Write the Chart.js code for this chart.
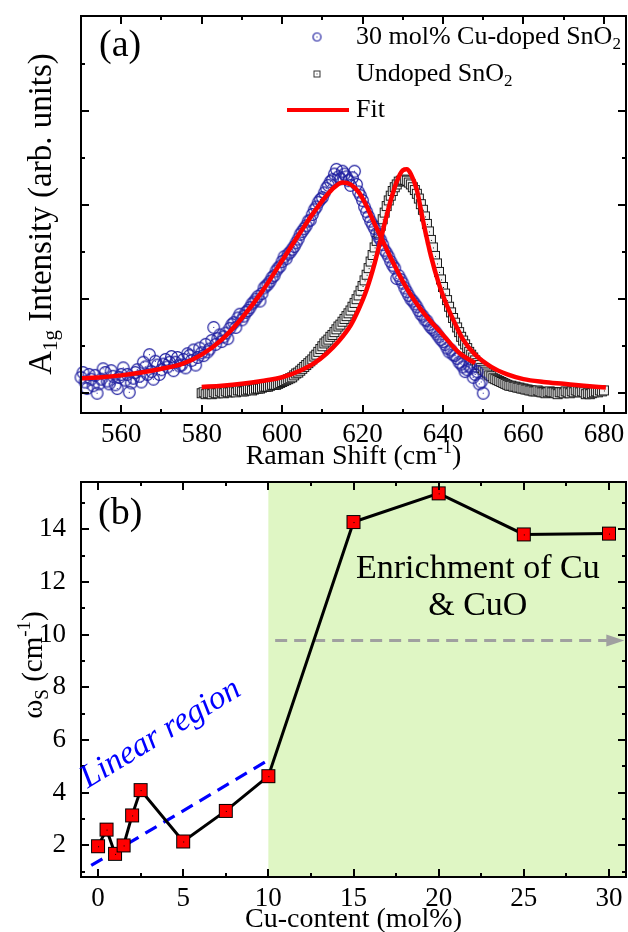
<!DOCTYPE html>
<html><head><meta charset="utf-8">
<script src="https://cdn.jsdelivr.net/npm/chart.js@4.4.1/dist/chart.umd.min.js"></script>
<style>
html,body{margin:0;padding:0;background:#fff;}
#wrap{position:relative;width:628px;height:932px;background:#fff;}
#c1{position:absolute;left:0;top:0;}
#c2{position:absolute;left:0;top:470px;}
</style></head><body>
<div id="wrap"><canvas id="c1" width="628" height="470"></canvas><canvas id="c2" width="628" height="462"></canvas></div>
<script>
// ---------- Panel (a) data ----------
const ramanShiftDoped = [550,550.5,551,551.5,552,552.5,553,553.5,554,554.5,555,555.5,556,556.5,557,557.5,558,558.5,559,559.5,560,560.5,561,561.5,562,562.5,563,563.5,564,564.5,565,565.5,566,566.5,567,567.5,568,568.5,569,569.5,570,570.5,571,571.5,572,572.5,573,573.5,574,574.5,575,575.5,576,576.5,577,577.5,578,578.5,579,579.5,580,580.5,581,581.5,582,582.5,583,583.5,584,584.5,585,585.5,586,586.5,587,587.5,588,588.5,589,589.5,590,590.5,591,591.5,592,592.5,593,593.5,594,594.5,595,595.5,596,596.5,597,597.5,598,598.5,599,599.5,600,600.5,601,601.5,602,602.5,603,603.5,604,604.5,605,605.5,606,606.5,607,607.5,608,608.5,609,609.5,610,610.5,611,611.5,612,612.5,613,613.5,614,614.5,615,615.5,616,616.5,617,617.5,618,618.5,619,619.5,620,620.5,621,621.5,622,622.5,623,623.5,624,624.5,625,625.5,626,626.5,627,627.5,628,628.5,629,629.5,630,630.5,631,631.5,632,632.5,633,633.5,634,634.5,635,635.5,636,636.5,637,637.5,638,638.5,639,639.5,640,640.5,641,641.5,642,642.5,643,643.5,644,644.5,645,645.5,646,646.5,647,647.5,648,648.5,649,649.5,650];
const intensityDoped = [0.17,0.22,0.12,0.05,0.20,0.15,0.08,0.19,0.00,0.10,0.15,0.26,0.22,0.13,0.10,0.24,0.18,0.09,0.05,0.17,0.20,0.27,0.14,0.20,0.01,0.11,0.16,0.22,0.25,0.18,0.12,0.33,0.28,0.20,0.41,0.23,0.15,0.34,0.30,0.20,0.25,0.31,0.36,0.28,0.33,0.39,0.24,0.33,0.38,0.29,0.30,0.36,0.27,0.42,0.40,0.35,0.46,0.30,0.38,0.48,0.43,0.40,0.52,0.44,0.47,0.56,0.70,0.52,0.58,0.62,0.55,0.60,0.64,0.58,0.69,0.73,0.75,0.70,0.80,0.84,0.78,0.82,0.86,0.88,0.91,0.95,0.97,1.00,1.03,0.98,1.06,1.12,1.14,1.16,1.19,1.23,1.25,1.30,1.33,1.35,1.40,1.45,1.43,1.48,1.50,1.53,1.56,1.60,1.64,1.69,1.72,1.75,1.78,1.83,1.84,1.90,1.95,1.98,2.03,2.06,2.08,2.13,2.18,2.21,2.25,2.27,2.33,2.38,2.30,2.28,2.36,2.33,2.30,2.26,2.21,2.29,2.36,2.22,2.14,2.10,2.05,1.98,1.93,1.88,1.83,1.79,1.75,1.70,1.66,1.63,1.58,1.52,1.49,1.45,1.40,1.36,1.33,1.22,1.25,1.21,1.17,1.12,1.08,1.04,1.00,0.98,0.95,0.92,0.88,0.84,0.82,0.78,0.77,0.73,0.70,0.68,0.66,0.63,0.60,0.57,0.55,0.52,0.48,0.44,0.46,0.41,0.40,0.37,0.33,0.31,0.28,0.23,0.25,0.29,0.27,0.17,0.20,0.23,0.10,0.12,0.00];
const ramanShiftUndoped = [580,580.5,581,581.5,582,582.5,583,583.5,584,584.5,585,585.5,586,586.5,587,587.5,588,588.5,589,589.5,590,590.5,591,591.5,592,592.5,593,593.5,594,594.5,595,595.5,596,596.5,597,597.5,598,598.5,599,599.5,600,600.5,601,601.5,602,602.5,603,603.5,604,604.5,605,605.5,606,606.5,607,607.5,608,608.5,609,609.5,610,610.5,611,611.5,612,612.5,613,613.5,614,614.5,615,615.5,616,616.5,617,617.5,618,618.5,619,619.5,620,620.5,621,621.5,622,622.5,623,623.5,624,624.5,625,625.5,626,626.5,627,627.5,628,628.5,629,629.5,630,630.5,631,631.5,632,632.5,633,633.5,634,634.5,635,635.5,636,636.5,637,637.5,638,638.5,639,639.5,640,640.5,641,641.5,642,642.5,643,643.5,644,644.5,645,645.5,646,646.5,647,647.5,648,648.5,649,649.5,650,650.5,651,651.5,652,652.5,653,653.5,654,654.5,655,655.5,656,656.5,657,657.5,658,658.5,659,659.5,660,660.5,661,661.5,662,662.5,663,663.5,664,664.5,665,665.5,666,666.5,667,667.5,668,668.5,669,669.5,670,670.5,671,671.5,672,672.5,673,673.5,674,674.5,675,675.5,676,676.5,677,677.5,678,678.5,679,679.5,680,680.5,681];
const intensityUndoped = [0.00,0.01,-0.01,0.00,0.00,-0.01,0.01,0.00,0.00,0.02,0.01,0.00,0.02,0.01,0.01,0.02,0.02,0.01,0.03,0.03,0.02,0.02,0.03,0.04,0.04,0.03,0.04,0.05,0.05,0.05,0.06,0.07,0.07,0.07,0.08,0.09,0.09,0.09,0.10,0.11,0.12,0.13,0.14,0.15,0.16,0.17,0.19,0.21,0.22,0.24,0.26,0.28,0.30,0.32,0.34,0.36,0.39,0.41,0.44,0.47,0.50,0.53,0.55,0.57,0.60,0.62,0.65,0.68,0.71,0.73,0.76,0.79,0.82,0.85,0.88,0.92,0.96,1.00,1.04,1.09,1.14,1.20,1.26,1.33,1.40,1.47,1.55,1.62,1.70,1.78,1.85,1.92,1.99,2.05,2.10,2.15,2.19,2.22,2.25,2.26,2.27,2.27,2.26,2.24,2.22,2.19,2.16,2.12,2.07,2.01,1.95,1.88,1.80,1.72,1.63,1.55,1.46,1.38,1.29,1.21,1.13,1.06,0.99,0.92,0.86,0.80,0.75,0.70,0.65,0.60,0.56,0.52,0.48,0.44,0.41,0.38,0.35,0.32,0.30,0.27,0.25,0.23,0.21,0.19,0.18,0.16,0.15,0.14,0.13,0.12,0.11,0.10,0.09,0.08,0.08,0.07,0.07,0.06,0.06,0.05,0.05,0.04,0.04,0.03,0.03,0.02,0.02,0.03,0.02,0.01,0.01,0.00,0.01,0.02,0.01,0.01,0.00,-0.01,0.01,0.01,0.00,0.02,0.01,0.00,0.02,0.01,0.03,0.02,0.01,0.02,0.01,-0.01,0.00,-0.01,0.00,0.01,0.02,0.01,0.03,0.02,0.03];
const fitShiftDoped = [550,555,560,565,570,575,580,585,590,595,600,605,608,611,613,615,617,619,621,623,625,627,630,633,636,640,644,648];
const fitDoped = [0.16,0.17,0.19,0.22,0.26,0.31,0.41,0.57,0.80,1.08,1.41,1.74,1.93,2.10,2.19,2.24,2.22,2.14,1.99,1.80,1.62,1.44,1.19,0.98,0.81,0.62,0.43,0.32];
const fitShiftUndoped = [580,585,590,595,600,605,608,611,614,617,619,621,623,625,627,628.5,630,631,632,633.5,635,637,639,641,643,645,648,652,656,660,665,670,675,680.5];
const fitUndoped = [0.067,0.08,0.10,0.13,0.17,0.25,0.32,0.42,0.55,0.72,0.89,1.10,1.38,1.72,2.05,2.25,2.37,2.38,2.33,2.16,1.84,1.46,1.16,0.93,0.74,0.57,0.41,0.28,0.20,0.15,0.12,0.10,0.08,0.06];
const ramanMajorTicks = [560,580,600,620,640,660,680];
const ramanMinorTicks = [570,590,610,630,650,670];
const intensityMajorTicks = [0,1,2,3];
const intensityMinorTicks = [0.5,1.5,2.5,3.5];
const legendLabels = [["30 mol% Cu-doped SnO","2"],["Undoped SnO","2"],["Fit",""]];

// ---------- Panel (b) data ----------
const cuContent = [0,0.5,1,1.5,2,2.5,5,7.5,10,15,20,25,30];
const omegaS = [1.97,2.60,1.68,2.00,3.14,4.10,2.15,3.31,4.63,14.28,15.37,13.81,13.84];
const cuMajorTicks = [0,5,10,15,20,25,30];
const cuMinorTicks = [2.5,7.5,12.5,17.5,22.5,27.5];
const omegaMajorTicks = [2,4,6,8,10,12,14];
const omegaMinorTicks = [1,3,5,7,9,11,13,15];
const linearRegionX = [-0.4, 9.9];
const linearRegionY = [1.24, 5.2];
const arrowX = [10.4, 30.9];
const arrowY = [9.78, 9.78];
const enrichmentStart = 10;
const linearLabelPos = {x: 3.94, y: 5.95};
const enrichLabelPos = [{x: 22.3, y: 12.5}, {x: 22.3, y: 11.07}];

const FONT = '"Liberation Serif","Times New Roman",serif';

function makeCircleMarker(r, color, lw) {
  const s = Math.ceil(2*r + 3);
  const c = document.createElement('canvas'); c.width = s; c.height = s;
  const g = c.getContext('2d');
  g.strokeStyle = color; g.lineWidth = lw;
  g.beginPath(); g.arc(s/2, s/2, r, 0, Math.PI*2); g.stroke();
  g.fillStyle = color; g.fillRect(Math.floor(s/2), Math.floor(s/2), 1, 1);
  return c;
}
function makeSquareMarker(side, fill, stroke, dot) {
  const s = side + 2;
  const c = document.createElement('canvas'); c.width = s; c.height = s;
  const g = c.getContext('2d');
  g.fillStyle = fill; g.fillRect(1, 1, side, side);
  g.strokeStyle = stroke; g.lineWidth = 1; g.strokeRect(1.5, 1.5, side - 1, side - 1);
  g.fillStyle = dot; g.fillRect(Math.floor(s/2), Math.floor(s/2), 1, 1);
  return c;
}
const circleMarker = makeCircleMarker(5.8, '#1f1fa0', 1.2);
const squareMarker = makeSquareMarker(10, '#f2f2f2', '#1a1a1a', '#1a1a1a');
const legendCircle = makeCircleMarker(4, '#1f1fa0', 1.2);
const legendSquare = makeSquareMarker(7, '#ffffff', '#333333', '#333333');
const redSquare = makeSquareMarker(14, '#ff0000', '#000000', '#000000');

function drawRich(ctx, parts, cx, cy, size, opts) {
  opts = opts || {};
  ctx.save();
  ctx.translate(cx, cy);
  if (opts.rot) ctx.rotate(opts.rot);
  ctx.textBaseline = 'middle';
  ctx.fillStyle = opts.color || '#000';
  const st = opts.style ? opts.style + ' ' : '';
  const fontFor = k => st + (k === 'n' ? size : Math.round(size*0.65)) + 'px ' + FONT;
  let total = 0;
  for (const [t, k] of parts) { ctx.font = fontFor(k); total += ctx.measureText(t).width; }
  let x = opts.align === 'left' ? 0 : -total/2;
  for (const [t, k] of parts) {
    ctx.font = fontFor(k);
    const dy = k === 'sub' ? size*0.3 : (k === 'sup' ? -size*0.3 : 0);
    ctx.fillText(t, x, dy);
    x += ctx.measureText(t).width;
  }
  ctx.restore();
}

function drawFrameTicks(chart, xMaj, xMin, yMaj, yMin) {
  const {ctx, chartArea: a, scales: {x, y}} = chart;
  ctx.save();
  ctx.strokeStyle = '#000'; ctx.lineWidth = 2;
  const hx = (vals, len) => vals.forEach(v => {
    const p = Math.round(x.getPixelForValue(v));
    ctx.beginPath(); ctx.moveTo(p, a.bottom); ctx.lineTo(p, a.bottom - len);
    ctx.moveTo(p, a.top); ctx.lineTo(p, a.top + len); ctx.stroke();
  });
  const hy = (vals, len) => vals.forEach(v => {
    const p = Math.round(y.getPixelForValue(v));
    ctx.beginPath(); ctx.moveTo(a.left, p); ctx.lineTo(a.left + len, p);
    ctx.moveTo(a.right, p); ctx.lineTo(a.right - len, p); ctx.stroke();
  });
  hx(xMaj, 8); hx(xMin, 4); hy(yMaj, 8); hy(yMin, 4);
  ctx.strokeRect(a.left, a.top, a.right - a.left, a.bottom - a.top);
  ctx.restore();
}

const tickFont = {family: FONT, size: 27};
const zeroPad = s => { s.paddingLeft = 0; s.paddingRight = 0; s.paddingTop = 0; s.paddingBottom = 0; };

// ---------- Panel (a) ----------
const panelA = {
  id: 'panelA',
  afterDraw(chart) {
    const ctx = chart.ctx;
    drawFrameTicks(chart, ramanMajorTicks, ramanMinorTicks, intensityMajorTicks, intensityMinorTicks);
    ctx.drawImage(legendCircle, 317 - legendCircle.width/2, 37 - legendCircle.height/2);
    ctx.drawImage(legendSquare, 317 - legendSquare.width/2, 74 - legendSquare.height/2);
    ctx.save(); ctx.strokeStyle = '#ff0000'; ctx.lineWidth = 4;
    ctx.beginPath(); ctx.moveTo(287, 110); ctx.lineTo(349, 110); ctx.stroke(); ctx.restore();
    const ys = [37, 74, 110];
    legendLabels.forEach((l, i) => {
      const parts = [[l[0], 'n']]; if (l[1]) parts.push([l[1], 'sub']);
      drawRich(ctx, parts, 356, ys[i], 26, {align: 'left'});
    });
    drawRich(ctx, [['(a)', 'n']], 99, 46, 38, {align: 'left'});
    drawRich(ctx, [['Raman Shift (cm', 'n'], ['-1', 'sup'], [')', 'n']], 353.5, 457, 28);
    drawRich(ctx, [['A', 'n'], ['1g', 'sub'], [' Intensity (arb. units)', 'n']], 42, 214, 33, {rot: -Math.PI/2});
  }
};

new Chart(document.getElementById('c1'), {
  type: 'scatter',
  data: {
    datasets: [
      {type: 'line', label: 'Fit doped', data: fitShiftDoped.map((v, i) => ({x: v, y: fitDoped[i]})),
        borderColor: '#ff0000', borderWidth: 4.5, pointRadius: 0, cubicInterpolationMode: 'monotone', fill: false},
      {type: 'line', label: 'Fit undoped', data: fitShiftUndoped.map((v, i) => ({x: v, y: fitUndoped[i]})),
        borderColor: '#ff0000', borderWidth: 4.5, pointRadius: 0, cubicInterpolationMode: 'monotone', fill: false},
      {label: '30 mol% Cu-doped SnO2', data: ramanShiftDoped.map((v, i) => ({x: v, y: intensityDoped[i]})),
        pointStyle: circleMarker, pointRadius: 6, showLine: false, clip: false},
      {label: 'Undoped SnO2', data: ramanShiftUndoped.map((v, i) => ({x: v, y: intensityUndoped[i]})),
        pointStyle: squareMarker, pointRadius: 6, showLine: false, clip: false}
    ]
  },
  options: {
    responsive: false, animation: false, events: [],
    plugins: {legend: {display: false}, tooltip: {enabled: false}},
    layout: {autoPadding: false, padding: {top: 16, right: 2, left: 0, bottom: 0}},
    scales: {
      x: {type: 'linear', min: 550, max: 685.5,
        afterBuildTicks: s => { s.ticks = ramanMajorTicks.map(v => ({value: v})); },
        afterFit: s => { s.height = 57; zeroPad(s); },
        grid: {display: false, drawTicks: false}, border: {display: false},
        ticks: {font: tickFont, color: '#000', padding: 6, maxRotation: 0, autoSkip: false}},
      y: {type: 'linear', min: -0.21, max: 4.01,
        afterFit: s => { s.width = 81; zeroPad(s); },
        grid: {display: false, drawTicks: false}, border: {display: false},
        ticks: {display: false}}
    }
  },
  plugins: [panelA]
});

// ---------- Panel (b) ----------
const panelB = {
  id: 'panelB',
  beforeDatasetsDraw(chart) {
    const {ctx, chartArea: a, scales: {x}} = chart;
    ctx.save(); ctx.fillStyle = '#dff6c4';
    const x0 = x.getPixelForValue(enrichmentStart);
    ctx.fillRect(x0, a.top, a.right - x0, a.bottom - a.top);
    ctx.restore();
  },
  afterDatasetsDraw(chart) {
    const {ctx, scales: {x, y}} = chart;
    const tx = x.getPixelForValue(arrowX[1]), ty = y.getPixelForValue(arrowY[1]);
    ctx.save(); ctx.fillStyle = '#a0a0a0';
    ctx.beginPath(); ctx.moveTo(tx, ty); ctx.lineTo(tx - 18, ty - 6); ctx.lineTo(tx - 18, ty + 6); ctx.closePath(); ctx.fill();
    ctx.restore();
  },
  afterDraw(chart) {
    const {ctx, scales: {x, y}} = chart;
    drawFrameTicks(chart, cuMajorTicks, cuMinorTicks, omegaMajorTicks, omegaMinorTicks);
    drawRich(ctx, [['(b)', 'n']], 98, 44, 38, {align: 'left'});
    drawRich(ctx, [['Enrichment of Cu', 'n']], x.getPixelForValue(enrichLabelPos[0].x), y.getPixelForValue(enrichLabelPos[0].y), 34);
    drawRich(ctx, [['& CuO', 'n']], x.getPixelForValue(enrichLabelPos[1].x), y.getPixelForValue(enrichLabelPos[1].y), 34);
    ctx.save();
    ctx.translate(x.getPixelForValue(linearLabelPos.x), y.getPixelForValue(linearLabelPos.y));
    ctx.rotate(-31.4 * Math.PI / 180);
    ctx.font = 'italic 33px ' + FONT; ctx.fillStyle = '#0000ff';
    ctx.textAlign = 'center'; ctx.textBaseline = 'alphabetic';
    ctx.fillText('Linear region', 0, 0);
    ctx.restore();
    drawRich(ctx, [['Cu-content (mol%)', 'n']], 353.5, 450, 28);
    drawRich(ctx, [['\u03c9', 'n'], ['S', 'sub'], [' (cm', 'n'], ['-1', 'sup'], [')', 'n']], 34, 195, 29, {rot: -Math.PI/2});
  }
};

new Chart(document.getElementById('c2'), {
  type: 'line',
  data: {
    datasets: [
      {label: 'omegaS', data: cuContent.map((v, i) => ({x: v, y: omegaS[i]})),
        borderColor: '#000', borderWidth: 3, pointStyle: redSquare, pointRadius: 8, tension: 0, clip: false},
      {label: 'linear', data: linearRegionX.map((v, i) => ({x: v, y: linearRegionY[i]})),
        borderColor: '#0000ff', borderWidth: 3.2, borderDash: [13, 8], pointRadius: 0},
      {label: 'arrow', data: arrowX.map((v, i) => ({x: i === 1 ? v - 1.0 : v, y: arrowY[i]})),
        borderColor: '#a0a0a0', borderWidth: 3, borderDash: [12, 7], pointRadius: 0}
    ]
  },
  options: {
    responsive: false, animation: false, events: [],
    plugins: {legend: {display: false}, tooltip: {enabled: false}},
    layout: {autoPadding: false, padding: {top: 12, right: 2, left: 0, bottom: 0}},
    scales: {
      x: {type: 'linear', min: -1, max: 31,
        afterBuildTicks: s => { s.ticks = cuMajorTicks.map(v => ({value: v})); },
        afterFit: s => { s.height = 55; zeroPad(s); },
        grid: {display: false, drawTicks: false}, border: {display: false},
        ticks: {font: tickFont, color: '#000', padding: 6, maxRotation: 0, autoSkip: false}},
      y: {type: 'linear', min: 0.8, max: 15.8,
        afterBuildTicks: s => { s.ticks = omegaMajorTicks.map(v => ({value: v})); },
        afterFit: s => { s.width = 81; zeroPad(s); },
        grid: {display: false, drawTicks: false}, border: {display: false},
        ticks: {font: tickFont, color: '#000', padding: 15, autoSkip: false}}
    }
  },
  plugins: [panelB]
});
</script>
</body></html>
